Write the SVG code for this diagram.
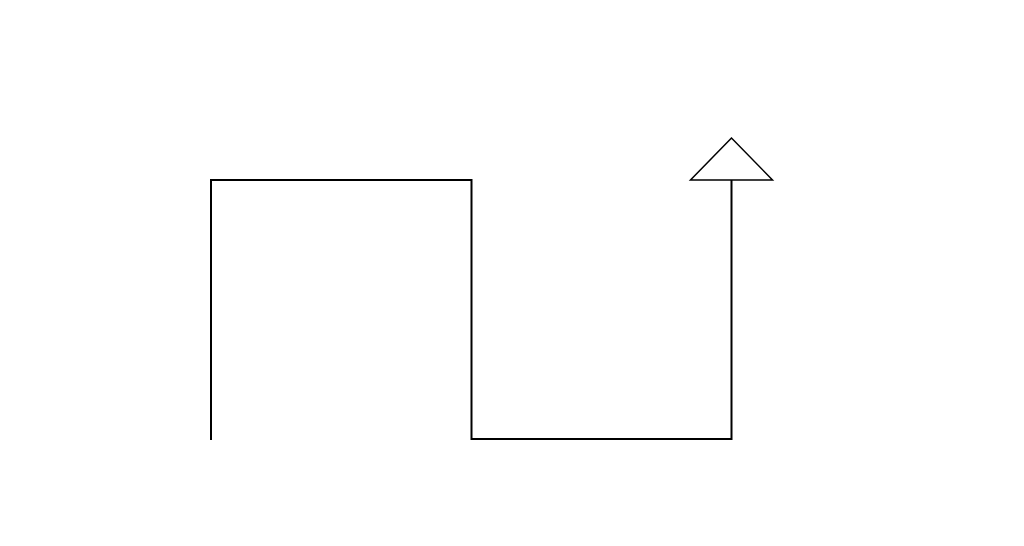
<svg xmlns="http://www.w3.org/2000/svg" width="1024" height="546" viewBox="0 0 1024 546">
<style>
.ln{fill:none;stroke:#000;stroke-width:2;stroke-linejoin:miter}
.ah{fill:#fff;stroke:#000;stroke-width:1.5;stroke-linejoin:miter}
</style>
<rect width="1024" height="546" fill="#fff"/>
<g id="connectors">
<polyline class="ln" points="211,440 211,180 471.5,180 471.5,439 731.5,439 731.5,180"/>
<polygon id="arrowhead" class="ah" points="731.5,138 690.5,180 772.5,180"/>
</g>
</svg>
